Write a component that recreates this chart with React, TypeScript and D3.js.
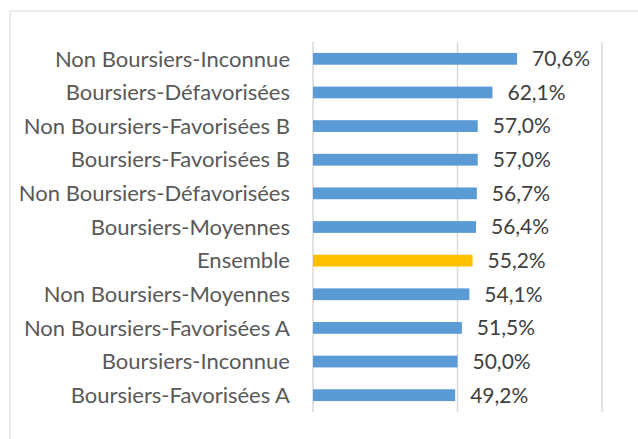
import React from "react";
import * as d3 from "d3";

const categories = [
  "Non Boursiers-Inconnue",
  "Boursiers-Défavorisées",
  "Non Boursiers-Favorisées B",
  "Boursiers-Favorisées B",
  "Non Boursiers-Défavorisées",
  "Boursiers-Moyennes",
  "Ensemble",
  "Non Boursiers-Moyennes",
  "Non Boursiers-Favorisées A",
  "Boursiers-Inconnue",
  "Boursiers-Favorisées A",
];
const values = [70.6, 62.1, 57.0, 57.0, 56.7, 56.4, 55.2, 54.1, 51.5, 50.0, 49.2];
const highlight = ["Ensemble"];
const gridTicks = [0, 50, 100];

const W = 638;
const H = 439;
const FONT = "Lato, 'Open Sans', sans-serif";

export default function App() {
  const x = d3.scaleLinear().domain([0, 100]).range([313, 602]);
  const y = d3.scaleBand<string>().domain(categories).range([42, 412]).paddingInner(0.65).paddingOuter(0.325);
  const fmt = (v: number) => v.toFixed(1).replace(".", ",") + "%";
  return (
    <svg width={W} height={H} style={{ position: "absolute", left: 0, top: 0, background: "#fff" }}>
      <rect x={10} y={11} width={W + 10} height={H + 10} fill="#fff" stroke="#d9d9d9" strokeWidth={1} />
      {gridTicks.map((t) => (
        <line key={t} x1={x(t)} x2={x(t)} y1={42} y2={412} stroke="#d9d9d9" strokeWidth={1.5} />
      ))}
      {categories.map((c, i) => {
        const yy = y(c)!;
        const bw = y.bandwidth();
        const isHi = highlight.includes(c);
        return (
          <g key={c}>
            <rect x={x(0)} y={yy} width={x(values[i]) - x(0)} height={bw} fill={isHi ? "#FFC000" : "#5B9BD5"} />
            <text x={290} y={yy + bw / 2} dy="0.35em" textAnchor="end" fontFamily={FONT} fontSize={22} fill="#595959">
              {c}
            </text>
            <text x={x(values[i]) + 15} y={yy + bw / 2} dy="0.35em" fontFamily={FONT} fontSize={21} fill="#404040">
              {fmt(values[i])}
            </text>
          </g>
        );
      })}
    </svg>
  );
}
